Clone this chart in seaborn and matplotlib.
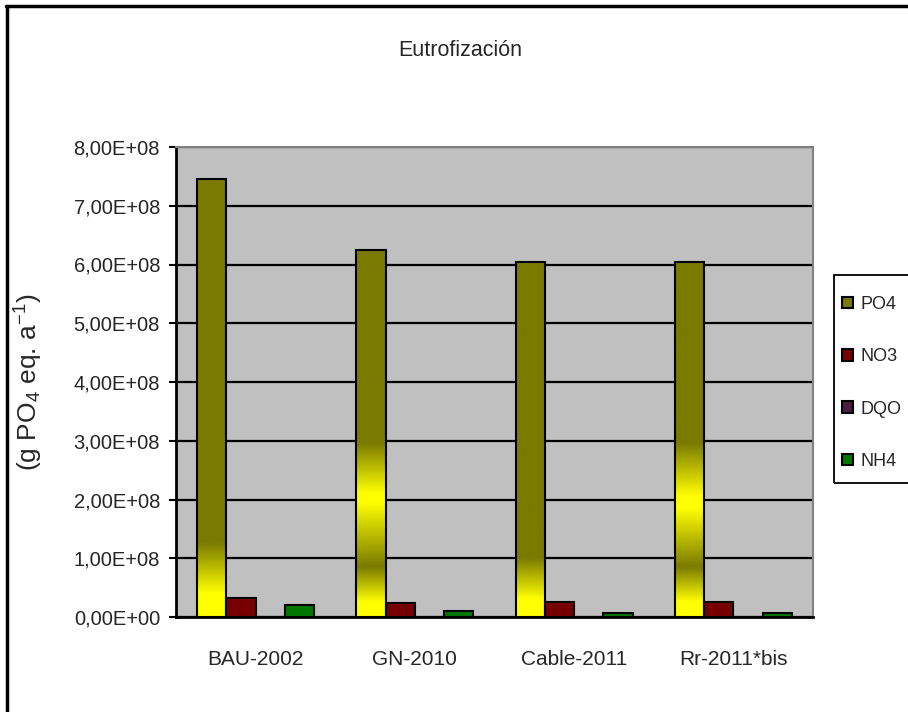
import numpy as np
import pandas as pd
import seaborn as sns
import matplotlib.pyplot as plt
from matplotlib.patches import Patch, Rectangle
from matplotlib.lines import Line2D
from matplotlib.colors import to_rgb
from matplotlib.ticker import FuncFormatter, MultipleLocator

# datos
escenarios = ["BAU-2002", "GN-2010", "Cable-2011", "Rr-2011*bis"]
contaminantes = ["PO4", "NO3", "DQO", "NH4"]
po4 = [7.45e8, 6.25e8, 6.05e8, 6.05e8]
no3 = [3.3e7, 2.45e7, 2.5e7, 2.5e7]
dqo = [1e5, 1e5, 1e5, 1e5]
nh4 = [2.0e7, 1.1e7, 0.65e7, 0.65e7]

colores = ["#7a7a00", "#760000", "#4b1e3e", "#007800"]

df = pd.DataFrame({"escenario": escenarios, "PO4": po4, "NO3": no3, "DQO": dqo, "NH4": nh4})
df = df.melt(id_vars="escenario", var_name="contaminante", value_name="valor")

sns.set_style("white")
plt.rcParams['font.family'] = ['Liberation Sans', 'DejaVu Sans']
plt.rcParams['mathtext.default'] = 'regular'

fig = plt.figure(figsize=(9.08, 7.12), dpi=100)
ax = fig.add_axes([176 / 908, 1 - 617 / 712, 637 / 908, 470 / 712])
ax.set_facecolor("#c0c0c0")
ax.set_axisbelow(True)

sns.barplot(data=df, x="escenario", y="valor", hue="contaminante", hue_order=contaminantes,
            palette=colores, width=0.735, saturation=1, edgecolor="black", linewidth=1.5,
            legend=False, ax=ax)

# relleno degradado (amarillo / oliva) de las barras de PO4, como en el original
amarillo = np.array(to_rgb("#ffff00"))
oliva = np.array(to_rgb("#7a7a00"))
degradados = [
    [(0, 1), (0.4e8, 1), (1.26e8, 0)],
    [(0, 1), (0.25e8, 1), (0.85e8, 0), (1.95e8, 1), (2.1e8, 1), (2.96e8, 0)],
    [(0, 1), (0.3e8, 1), (1.0e8, 0)],
    [(0, 1), (0.25e8, 1), (0.85e8, 0), (1.85e8, 1), (2.05e8, 1), (2.96e8, 0)],
]
for p, paradas in zip(ax.containers[0], degradados):
    h = p.get_height()
    yy = np.linspace(0, h, 400)
    t = np.interp(yy, [s[0] for s in paradas], [s[1] for s in paradas], right=0)
    img = (t[:, None] * amarillo + (1 - t[:, None]) * oliva)[:, None, :]
    im = ax.imshow(img, extent=[p.get_x(), p.get_x() + p.get_width(), 0, h],
                   origin="lower", aspect="auto", zorder=p.get_zorder() - 0.01)
    im.set_clip_path(p)
    p.set_facecolor("none")

ax.set_xlim(-0.5, 3.5)
ax.set_ylim(0, 8e8)
ax.set_aspect("auto")

ax.yaxis.set_major_locator(MultipleLocator(1e8))
ax.yaxis.set_major_formatter(FuncFormatter(lambda v, pos: f"{v:.2E}".replace(".", ",")))
ax.grid(axis="y", color="black", linewidth=1.6)
ax.grid(axis="x", visible=False)

ax.set_xticks(range(4))
ax.set_xticklabels(escenarios)
ax.set_xticks([-0.5, 0.5, 1.5, 2.5, 3.5], minor=True)
ax.tick_params(axis="x", which="major", length=0, pad=24, labelsize=15)
ax.tick_params(axis="x", which="minor", length=6, width=1.5, color="black", direction="out")
ax.tick_params(axis="y", length=5, width=1.5, color="black", direction="out", pad=6.5, labelsize=14.5, left=True)
ax.set_xlabel("")
ax.set_ylabel("(g PO$_4$ eq. a$^{-1}$)", fontsize=19)
ax.yaxis.set_label_coords((45 - 176) / 637, 0.5)

for lado in ["left", "bottom"]:
    ax.spines[lado].set_color("black")
    ax.spines[lado].set_linewidth(2)
for lado in ["top", "right"]:
    ax.spines[lado].set_color("#808080")
    ax.spines[lado].set_linewidth(1.5)

fig.text(460 / 908, 1 - 50 / 712, "Eutrofización", ha="center", va="center", fontsize=15.5)

# leyenda sin marco propio; el marco se dibuja aparte
handles = [Patch(facecolor=c, edgecolor="black", linewidth=1.5) for c in colores]
leg = ax.legend(handles, contaminantes, loc="upper left", bbox_to_anchor=(834 / 908, 1 - 288 / 712),
                bbox_transform=fig.transFigure, frameon=False, fontsize=13,
                handlelength=0.6, handleheight=0.6, handletextpad=0.4, labelspacing=1.95,
                borderpad=0.45, borderaxespad=0)
fig.add_artist(Rectangle((834 / 908, 1 - 483 / 712), 90 / 908, 208 / 712, transform=fig.transFigure,
                         facecolor="none", edgecolor="black", linewidth=1.3))

# marco exterior (solo superior e izquierdo visibles)
fig.add_artist(Line2D([6 / 908, 1], [1 - 6 / 712, 1 - 6 / 712], transform=fig.transFigure, color="black", lw=2.5))
fig.add_artist(Line2D([7 / 908, 7 / 908], [0, 1 - 6 / 712], transform=fig.transFigure, color="black", lw=2.5))

plt.savefig("out.png", dpi=100)
